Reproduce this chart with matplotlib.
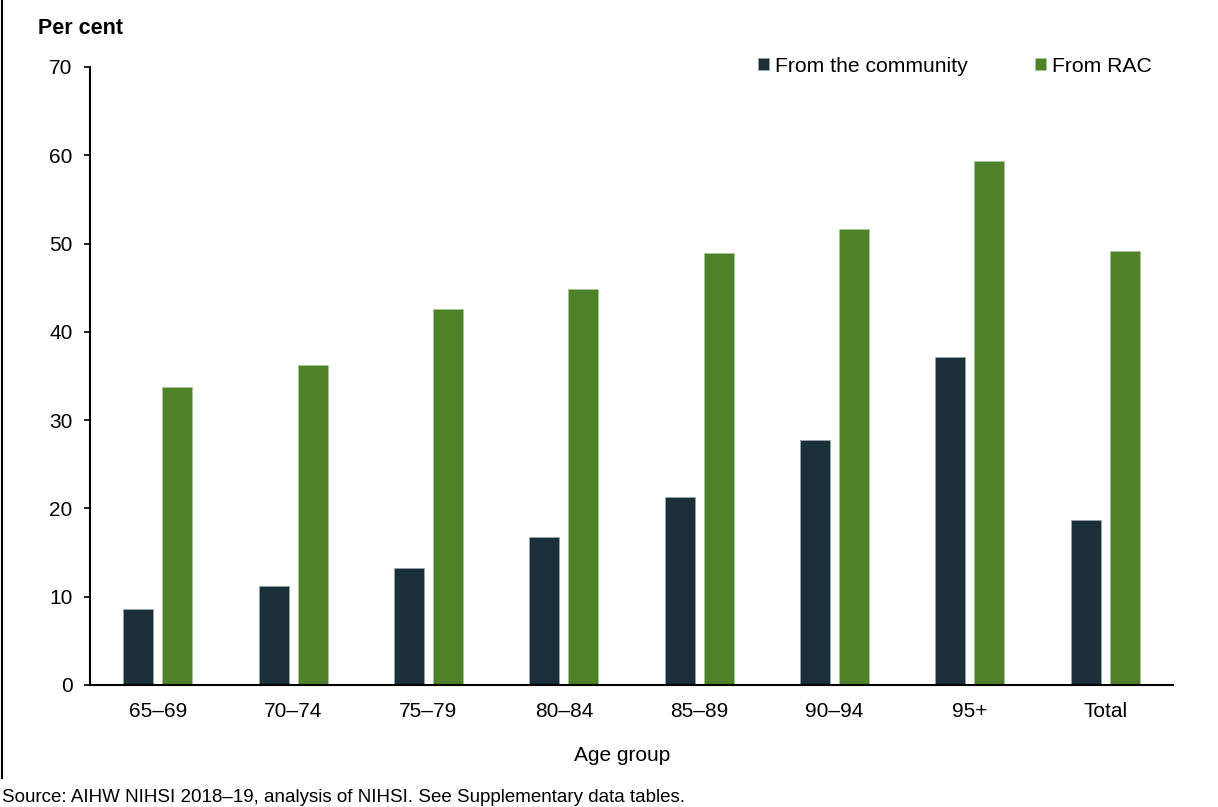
import numpy as np
import matplotlib.pyplot as plt
from matplotlib.lines import Line2D

plt.rcParams['font.family'] = ['Liberation Sans', 'DejaVu Sans']

# Data
age_groups = ['65–69', '70–74', '75–79', '80–84', '85–89', '90–94', '95+', 'Total']
from_community = [8.6, 11.2, 13.2, 16.8, 21.3, 27.7, 37.2, 18.7]
from_rac = [33.7, 36.2, 42.6, 44.9, 48.9, 51.6, 59.3, 49.2]

dark = '#1b2f38'
green = '#4f8228'

fig = plt.figure(figsize=(12.18, 8.07), dpi=100)
ax = fig.add_axes([90 / 1218, 1 - 685 / 807, (1173 - 90) / 1218, (685 - 67) / 807])

x = np.arange(len(age_groups))
width = 0.222
offset = 0.144
ax.bar(x - offset, from_community, width, color=dark, edgecolor='#9aa7ad', linewidth=0.5,
       label='From the community')
ax.bar(x + offset, from_rac, width, color=green, edgecolor='#a9c49a', linewidth=0.5,
       label='From RAC')

ax.set_xlim(-0.5, 7.5)
ax.set_ylim(0, 70)
ax.set_yticks(range(0, 71, 10))
ax.set_xticks(x)
ax.set_xticklabels(age_groups)
ax.tick_params(axis='x', length=0, pad=12.5, labelsize=15)
ax.tick_params(axis='y', length=4.5, width=1.2, pad=8, labelsize=15)

for s in ['top', 'right']:
    ax.spines[s].set_visible(False)
for s in ['left', 'bottom']:
    ax.spines[s].set_linewidth(1.5)
    ax.spines[s].set_color('black')

ax.set_xlabel('Age group', fontsize=15)
ax.xaxis.set_label_coords(0.491, -0.099)

# Legend
fig.legend(loc='center left', bbox_to_anchor=(758 / 1218, 1 - 66 / 807), ncol=2,
           frameon=False, fontsize=15.2, handlelength=0.5, handleheight=0.5,
           handletextpad=0.3, columnspacing=3.2, borderpad=0, borderaxespad=0)

fig.text(38 / 1218, 1 - 28 / 807, 'Per cent', fontsize=15.5, fontweight='bold', va='center', ha='left')
fig.text(2 / 1218, 1 - 797 / 807, 'Source: AIHW NIHSI 2018–19, analysis of NIHSI. See Supplementary data tables.',
         fontsize=13.5, va='center', ha='left')

# left border line of the figure frame
fig.add_artist(Line2D([2 / 1218, 2 / 1218], [1 - 778 / 807, 1.0], transform=fig.transFigure,
                      color='black', linewidth=1.5))

plt.savefig('out.png', dpi=100)
